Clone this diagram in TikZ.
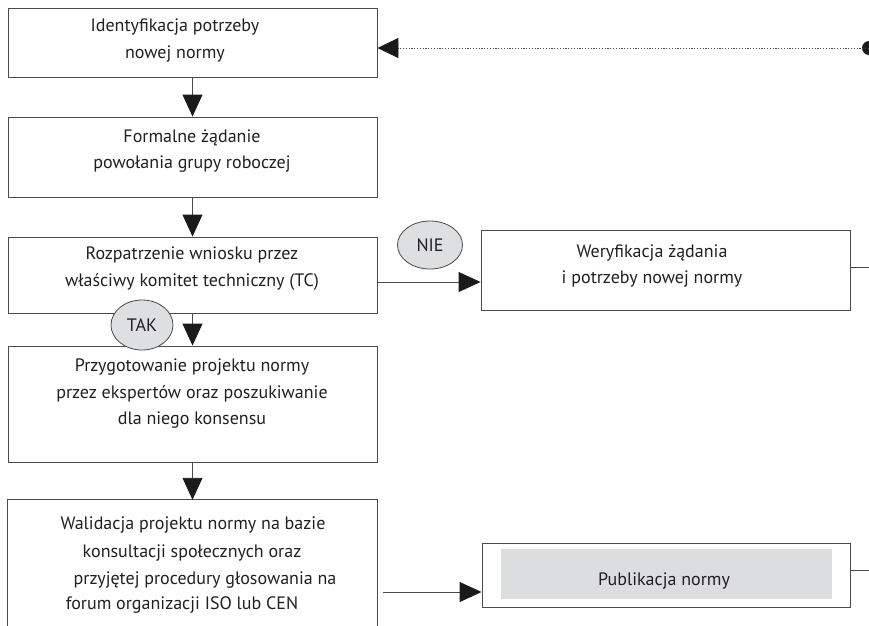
\documentclass[tikz,border=0pt]{standalone}
\usepackage{fontspec}
\setmainfont{PT Sans}
\usetikzlibrary{arrows.meta,shapes.geometric,calc}
\definecolor{ln}{HTML}{4A4A4A}
\definecolor{tipc}{HTML}{1A1A1A}
\definecolor{elfill}{HTML}{DEDFE1}
\definecolor{pubfill}{HTML}{DCDDDF}
\definecolor{txt}{HTML}{231F20}
\begin{document}
\begin{tikzpicture}[x=1pt,y=-1pt,
  box/.style={draw=ln, line width=0.9pt, rectangle, inner sep=0pt},
  lbl/.style={text=txt, font=\fontsize{18}{26.5}\selectfont, align=center, inner sep=0pt},
  arr/.style={draw=ln, line width=0.9pt, -{Triangle[length=22pt,width=20pt,color=tipc]}},
  oval/.style={ellipse, draw=ln, fill=elfill, line width=0.8pt, inner sep=0pt, text=txt, font=\fontsize{18}{20}\selectfont},
  stub/.style={draw=ln, line width=0.9pt}]
\useasboundingbox (0,0) rectangle (869,625);
% boxes
\node[box, minimum width=369pt, minimum height=69pt] (b1) at (192.5,42.5) {};
\node[box, minimum width=369pt, minimum height=80pt] (b2) at (192.5,157) {};
\node[box, minimum width=369pt, minimum height=76pt] (b3) at (192.5,275) {};
\node[box, minimum width=369pt, minimum height=116pt] (b4) at (192.5,404) {};
\node[inner sep=0pt, minimum width=369pt, minimum height=140pt] (b5) at (192.5,570) {};
\draw[stub] (b5.south west) |- (b5.north east) -- (b5.south east);
\node[box, minimum width=369pt, minimum height=80pt] (ver) at (665.5,270) {};
\node[box, minimum width=368pt, minimum height=64pt] (pub) at (666,575) {};
\node[fill=pubfill, inner sep=0pt, minimum width=331pt, minimum height=50pt] (pubin) at (666.5,574) {};
% texts
\node[lbl] (t1) at (175,40.5) {Identyfikacja potrzeby\\nowej normy};
\node[lbl] (t2) at (192,151) {Formalne żądanie\\powołania grupy roboczej};
\node[lbl] (t3) at (192,268.5) {Rozpatrzenie wniosku przez\\właściwy komitet techniczny (TC)};
\node[lbl] (t4) at (192,394) {Przygotowanie projektu normy\\przez ekspertów oraz poszukiwanie\\dla niego konsensu};
\node[lbl] (t5a) at (193,525) {Walidacja projektu normy na bazie};
\node[lbl] (t5b) at (192,553) {konsultacji społecznych oraz};
\node[lbl] (t5c) at (205,580) {przyjętej procedury głosowania na};
\node[lbl] (t5d) at (182,605) {forum organizacji ISO lub CEN};
\node[lbl] (tv) at (652,266) {Weryfikacja żądania\\i potrzeby nowej normy};
\node[lbl] (tp) at (664,581) {Publikacja normy};
% vertical arrows
\draw[arr] (b1.south) -- (b2.north);
\draw[arr] (b2.south) -- (b3.north);
\draw[arr] (b3.south) -- (b4.north);
\draw[arr] (b4.south) -- (b5.north);
% NIE arrow
\coordinate (n1) at ([yshift=-7pt]b3.east);
\draw[arr] (n1) -- (n1 -| ver.west);
% publication arrow
\coordinate (p1) at (383,592);
\draw[arr] (p1) -- (p1 -| pub.west);
% right stubs
\coordinate (r1) at (869,267);
\coordinate (r2) at (869,570);
\draw[stub] (r1 -| ver.east) -- (r1);
\draw[stub] (r2 -| pub.east) -- (r2);
% dotted return
\coordinate (dotend) at (869,48);
\fill[tipc] (dotend) circle (7pt);
\draw[draw=ln, line width=0.9pt, dash pattern=on 1.2pt off 1.6pt, -{Triangle[length=21pt,width=20pt,color=tipc]}] (dotend) -- (dotend -| b1.east);
% decision ovals
\node[oval, minimum width=65pt, minimum height=48pt] (nie) at (430,245) {NIE};
\node[oval, minimum width=62pt, minimum height=50pt] (tak) at (142,325) {TAK};
\end{tikzpicture}
\end{document}
